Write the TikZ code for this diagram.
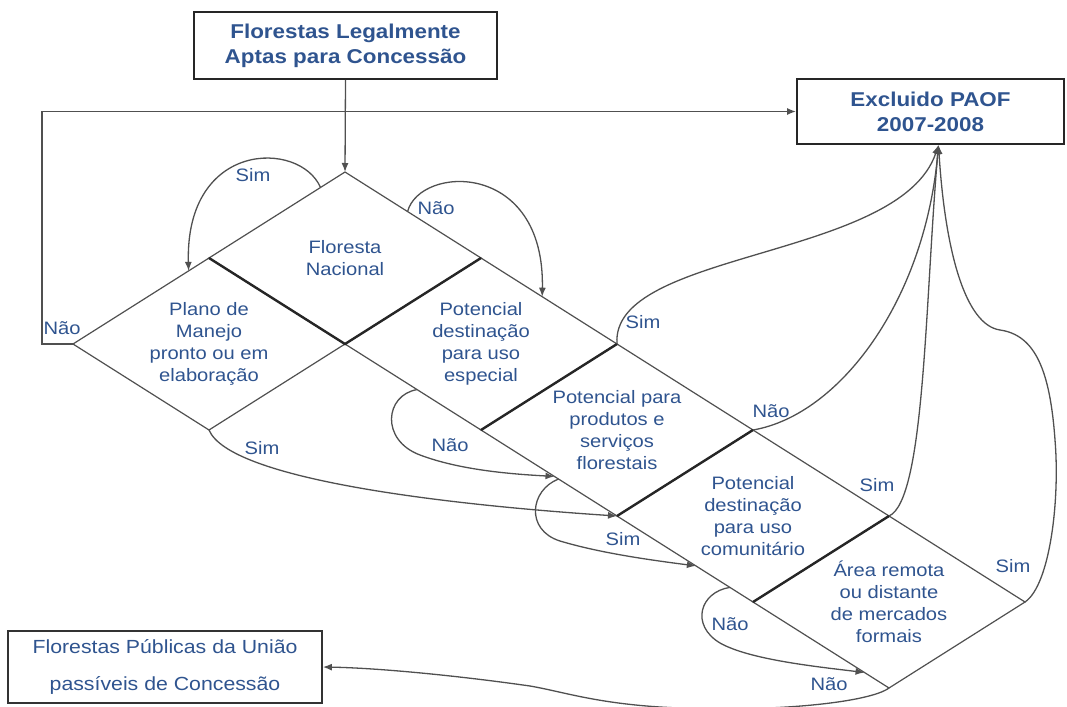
\documentclass[tikz,border=0pt]{standalone}
\usepackage{fontspec}
\setmainfont{Liberation Sans}[FakeStretch=1.12]
\usetikzlibrary{shapes.geometric, arrows.meta, calc}

\definecolor{textblue}{RGB}{47,84,143}
\definecolor{linegray}{RGB}{80,80,80}

\tikzset{
  titlebox/.style={draw=black!85, line width=2pt, inner sep=0pt, align=center,
    text=textblue, font=\fontsize{20}{25}\selectfont\bfseries},
  endbox/.style={draw=black!80, line width=1.8pt, inner sep=0pt, align=center,
    text=textblue, font=\fontsize{19}{37}\selectfont},
  decision/.style={diamond, draw=linegray, line width=1.2pt, inner sep=0pt, outer sep=0pt,
    minimum width=272pt, minimum height=172pt, aspect=1.58, align=center,
    text=textblue, font=\fontsize{18}{22}\selectfont},
  shared/.style={draw=black!85, line width=2.4pt},
  flow/.style={draw=linegray, line width=1.3pt, -{Latex[length=9pt,width=7pt]}},
  answer/.style={text=textblue, inner sep=0pt, font=\fontsize{18}{22}\selectfont}
}

\begin{document}
\begin{tikzpicture}[x=1pt, y=-1pt]
    \useasboundingbox (0,0) rectangle (1067,706);

    % boxes
    \node[titlebox, minimum width=303pt, minimum height=67pt] (legal) at (345.5,45.5)
        {Florestas Legalmente\\Aptas para Concessão};
    \node[titlebox, minimum width=267pt, minimum height=65pt] (excl) at (930.5,111.5)
        {Excluido PAOF\\2007-2008};
    \node[endbox, minimum width=314pt, minimum height=72pt] (publ) at (165,667)
        {Florestas Públicas da União\\passíveis de Concessão};

    % chain of decisions
    \node[decision] (d1) at (345,258) {Floresta\\Nacional};
    \node[decision, anchor=north] (d2) at (d1.west) {Plano de\\Manejo\\pronto ou em\\elaboração};
    \node[decision, anchor=north] (d3) at (d1.east) {Potencial\\destinação\\para uso\\especial};
    \node[decision, anchor=north] (d4) at (d3.east) {Potencial para\\produtos e\\serviços\\florestais};
    \node[decision, anchor=north] (d5) at (d4.east) {Potencial\\destinação\\para uso\\comunitário};
    \node[decision, anchor=north] (d6) at (d5.east) {Área remota\\ou distante\\de mercados\\formais};

    \draw[shared] (d1.west) -- (d1.south) -- (d1.east);
    \draw[shared] (d3.east) -- (d3.south);
    \draw[shared] (d4.east) -- (d4.south);
    \draw[shared] (d5.east) -- (d5.south);

    % points on the edges
    \coordinate (nacSim) at ($(d1.north)!0.18!(d1.west)$);
    \coordinate (manejoIn) at ($(d2.north)!0.15!(d2.west)$);
    \coordinate (nacNao) at ($(d1.north)!0.46!(d1.east)$);
    \coordinate (especialIn) at ($(d3.north)!0.45!(d3.east)$);
    \coordinate (especialNao) at ($(d3.west)!0.53!(d3.south)$);
    \coordinate (produtosIn) at ($(d4.west)!0.54!(d4.south)$);
    \coordinate (produtosSim) at ($(d4.west)!0.57!(d4.south)$);
    \coordinate (comunIn) at ($(d5.west)!0.58!(d5.south)$);
    \coordinate (comunNao) at ($(d5.west)!0.83!(d5.south)$);
    \coordinate (remotaIn) at ($(d6.west)!0.82!(d6.south)$);
    \coordinate (exclIn) at ([xshift=8pt]excl.south);

    % connectors
    \draw[flow] (legal.south) -- (d1.north);
    \draw[flow] (d2.west) -- ++(-31,0) |- (excl.west);
    \draw[flow] (nacSim) .. controls (300,140) and (185,140) .. (manejoIn);
    \draw[flow] (nacNao) .. controls (420,165) and (545,160) .. (especialIn);
    \draw[flow] (d3.east) .. controls (610,250) and (900,260) .. (exclIn);
    \draw[flow] (especialNao) .. controls (385,395) and (380,440) .. (420,455)
        .. controls (460,470) and (510,474) .. (produtosIn);
    \draw[flow] (d2.south) .. controls (230,480) and (450,505) .. (d4.south);
    \draw[flow] (d4.east) .. controls (840,415) and (925,300) .. (exclIn);
    \draw[flow] (produtosSim) .. controls (530,490) and (525,530) .. (560,541)
        .. controls (600,553) and (650,560) .. (comunIn);
    \draw[flow] (d5.east) .. controls (925,500) and (925,300) .. (exclIn);
    \draw[flow] (d6.east) .. controls (1050,585) and (1060,500) .. (1055,440)
        .. controls (1050,370) and (1035,335) .. (1000,330)
        .. controls (965,325) and (945,250) .. (exclIn);
    \draw[flow] (comunNao) .. controls (700,592) and (690,625) .. (720,643)
        .. controls (750,660) and (820,667) .. (remotaIn);
    \draw[flow] (d6.south) .. controls (870,702) and (780,712) .. (680,708)
        .. controls (600,705) and (565,692) .. (530,686)
        .. controls (460,676) and (380,668) .. (publ.east);

    % answers
    \node[answer] (nNao) at (62,328) {Não};
    \node[answer] (nSim) at (253,175) {Sim};
    \node[answer] (eNao) at (436,208) {Não};
    \node[answer] (pSim) at (643,322) {Sim};
    \node[answer] (mSim) at (262,448) {Sim};
    \node[answer] (sNao) at (450,445) {Não};
    \node[answer] (fNao) at (771,411) {Não};
    \node[answer] (fSim) at (623,539) {Sim};
    \node[answer] (cSim) at (877,485) {Sim};
    \node[answer] (rSim) at (1013,566) {Sim};
    \node[answer] (cNao) at (730,624) {Não};
    \node[answer] (rNao) at (829,684) {Não};
\end{tikzpicture}
\end{document}
